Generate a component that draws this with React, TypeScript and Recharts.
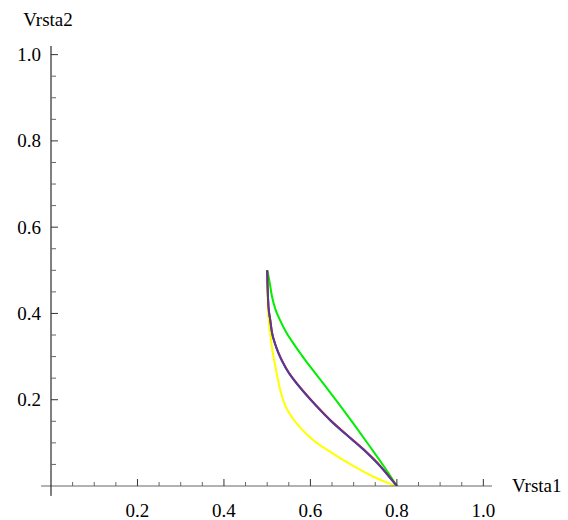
import React from "react";
import { LineChart, Line, XAxis, YAxis, ReferenceLine } from "recharts";

const yellowSeries = [
  { x: 0.5, y: 0.5 }, { x: 0.5, y: 0.46 }, { x: 0.501, y: 0.432 }, { x: 0.503, y: 0.39 },
  { x: 0.507, y: 0.354 }, { x: 0.512, y: 0.315 }, { x: 0.519, y: 0.277 }, { x: 0.53, y: 0.223 },
  { x: 0.542, y: 0.186 }, { x: 0.555, y: 0.163 }, { x: 0.575, y: 0.137 }, { x: 0.6, y: 0.112 },
  { x: 0.646, y: 0.079 }, { x: 0.7, y: 0.046 }, { x: 0.745, y: 0.022 }, { x: 0.785, y: 0.005 },
  { x: 0.8, y: 0 },
];
const greenSeries = [
  { x: 0.5, y: 0.5 }, { x: 0.504, y: 0.482 }, { x: 0.511, y: 0.44 }, { x: 0.519, y: 0.41 },
  { x: 0.53, y: 0.384 }, { x: 0.542, y: 0.36 }, { x: 0.561, y: 0.33 }, { x: 0.58, y: 0.303 },
  { x: 0.6, y: 0.276 }, { x: 0.638, y: 0.227 }, { x: 0.657, y: 0.202 }, { x: 0.7, y: 0.144 },
  { x: 0.738, y: 0.091 }, { x: 0.769, y: 0.047 }, { x: 0.792, y: 0.012 }, { x: 0.8, y: 0 },
];
const blueSeries = [
  { x: 0.5, y: 0.5 }, { x: 0.501, y: 0.46 }, { x: 0.503, y: 0.416 }, { x: 0.507, y: 0.385 },
  { x: 0.511, y: 0.356 }, { x: 0.518, y: 0.33 }, { x: 0.526, y: 0.308 }, { x: 0.545, y: 0.27 },
  { x: 0.576, y: 0.228 }, { x: 0.615, y: 0.184 }, { x: 0.646, y: 0.152 }, { x: 0.684, y: 0.118 },
  { x: 0.723, y: 0.084 }, { x: 0.762, y: 0.045 }, { x: 0.788, y: 0.014 }, { x: 0.8, y: 0 },
];
const redSeries = [
  { x: 0.5, y: 0.5 }, { x: 0.501, y: 0.461 }, { x: 0.503, y: 0.417 }, { x: 0.507, y: 0.386 },
  { x: 0.511, y: 0.357 }, { x: 0.518, y: 0.331 }, { x: 0.526, y: 0.309 }, { x: 0.545, y: 0.271 },
  { x: 0.576, y: 0.229 }, { x: 0.615, y: 0.185 }, { x: 0.646, y: 0.153 }, { x: 0.684, y: 0.119 },
  { x: 0.723, y: 0.085 }, { x: 0.762, y: 0.046 }, { x: 0.788, y: 0.015 }, { x: 0.8, y: 0 },
];

const axisTicks = [
  0.05, 0.1, 0.15, 0.2, 0.25, 0.3, 0.35, 0.4, 0.45, 0.5,
  0.55, 0.6, 0.65, 0.7, 0.75, 0.8, 0.85, 0.9, 0.95, 1.0,
];
const majorTickLabels = ["0.2", "0.4", "0.6", "0.8", "1.0"];
const xAxisTitle = "Vrsta1";
const yAxisTitle = "Vrsta2";

const FONT = "Liberation Serif";
const FS = 19;

function labelFor(v: number): string | null {
  const s = v.toFixed(1);
  const isMajor = Math.abs(v * 5 - Math.round(v * 5)) < 1e-6;
  return isMajor && majorTickLabels.includes(s) ? s : null;
}

const XTick = (props: any) => {
  const { x, y, payload } = props;
  const lab = labelFor(payload.value);
  const len = lab ? 7 : 4;
  return (
    <g>
      <line x1={x} y1={y} x2={x} y2={y - len} stroke={lab ? "#333" : "#666"} strokeWidth={1} />
      {lab && (
        <text x={x} y={y + 31} textAnchor="middle" fontFamily={FONT} fontSize={FS} fill="#000">
          {lab}
        </text>
      )}
    </g>
  );
};

const YTick = (props: any) => {
  const { x, y, payload } = props;
  const lab = labelFor(payload.value);
  const len = lab ? 7 : 5;
  return (
    <g>
      <line x1={x} y1={y} x2={x + len} y2={y} stroke={lab ? "#333" : "#666"} strokeWidth={1} />
      {lab && (
        <text x={x - 10} y={y} dy="0.34em" textAnchor="end" fontFamily={FONT} fontSize={FS} fill="#000">
          {lab}
        </text>
      )}
    </g>
  );
};

export default function App() {
  return (
    <div style={{ position: "absolute", left: 0, top: 0, width: 568, height: 520, background: "#fff" }}>
      <LineChart
        width={568}
        height={520}
        margin={{ top: 46, right: 76, left: 0, bottom: 0 }}
      >
        <XAxis
          type="number"
          dataKey="x"
          domain={[0, 1.02]}
          ticks={axisTicks}
          interval={0}
          tickSize={0}
          tickMargin={0}
          tickLine={false}
          tick={<XTick />}
          height={34}
          axisLine={{ stroke: "#666", strokeWidth: 1 }}
          allowDataOverflow
          label={(p: any) => {
            const vb = p.viewBox;
            return (
              <text x={vb.x + vb.width + 20} y={vb.y + 6} textAnchor="start" fontFamily={FONT} fontSize={FS} fill="#000">
                {xAxisTitle}
              </text>
            );
          }}
        />
        <YAxis
          type="number"
          domain={[0, 1.02]}
          ticks={axisTicks}
          interval={0}
          tickSize={0}
          tickMargin={0}
          tickLine={false}
          tick={<YTick />}
          width={51}
          axisLine={{ stroke: "#000", strokeWidth: 1 }}
          allowDataOverflow
          label={(p: any) => {
            const vb = p.viewBox;
            return (
              <text x={vb.x + vb.width - 3} y={vb.y - 20} textAnchor="middle" fontFamily={FONT} fontSize={FS} fill="#000">
                {yAxisTitle}
              </text>
            );
          }}
        />
        <ReferenceLine
          segment={[{ x: -0.023, y: 0 }, { x: 0, y: 0 }]}
          stroke="#666"
          strokeWidth={1}
          ifOverflow="visible"
        />
        <ReferenceLine
          segment={[{ x: 0, y: -0.023 }, { x: 0, y: 0 }]}
          stroke="#000"
          strokeWidth={1}
          ifOverflow="visible"
        />
        <Line data={yellowSeries} dataKey="y" type="monotone" stroke="#ffff00" strokeWidth={2} dot={false} activeDot={false} isAnimationActive={false} />
        <Line data={greenSeries} dataKey="y" type="monotone" stroke="#00ee00" strokeWidth={2} dot={false} activeDot={false} isAnimationActive={false} />
        <Line data={redSeries} dataKey="y" type="monotone" stroke="#ff0000" strokeWidth={2} dot={false} activeDot={false} isAnimationActive={false} />
        <Line data={blueSeries} dataKey="y" type="monotone" stroke="#4a3f9f" strokeWidth={2} dot={false} activeDot={false} isAnimationActive={false} />
      </LineChart>
    </div>
  );
}
